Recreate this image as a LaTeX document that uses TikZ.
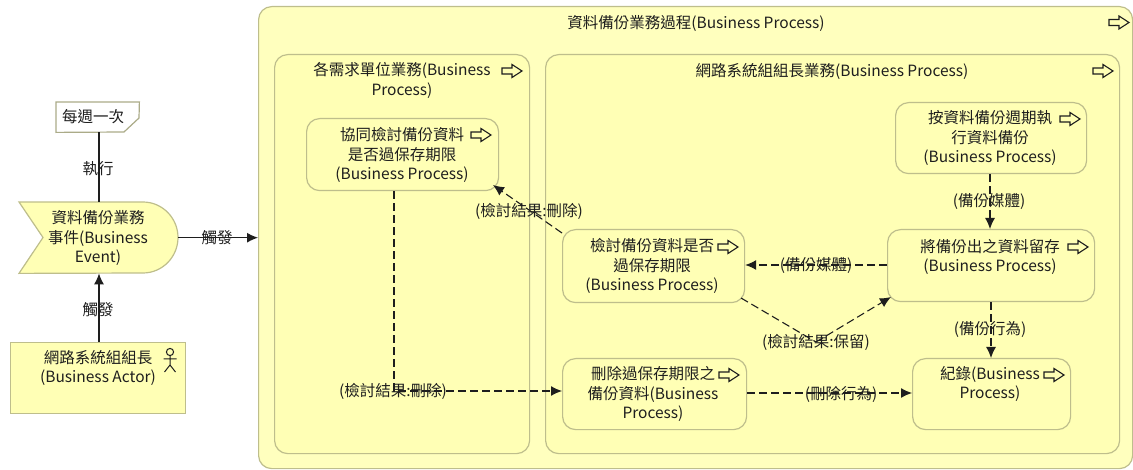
\documentclass[tikz,border=0pt]{standalone}
\usepackage{fontspec}
\setmainfont{Noto Sans CJK TC}
\usetikzlibrary{arrows.meta,calc}
\definecolor{fillA}{RGB}{255,255,181}
\definecolor{fillB}{RGB}{255,255,190}
\definecolor{edgeA}{RGB}{190,190,140}
\definecolor{inkA}{RGB}{30,30,30}
\tikzset{
  pbox/.style={draw=edgeA,line width=1.2pt,fill=fillA,rounded corners=13pt,inner sep=0pt,anchor=north west,rectangle},
  abox/.style={draw=edgeA,line width=1.2pt,fill=fillA,inner sep=0pt,anchor=north west,rectangle},
  frame/.style={inner sep=0pt,anchor=north west,rectangle},
  txt/.style={font=\fontsize{15.5}{19.6}\selectfont,text=inkA,align=center,inner sep=0pt},
  solidc/.style={draw=inkA,line width=1.2pt},
  dashc/.style={draw=inkA,line width=1.1pt,dash pattern=on 8pt off 4pt},
  tip/.style={-{Latex[length=11pt,width=10pt]}},
  micon/.pic={\draw[inkA,line width=1.1pt,fill=fillA,line join=miter]
    (-10,-3)--(0,-3)--(0,-6.5)--(10,0)--(0,6.5)--(0,3)--(-10,3)--cycle;}
}
\begin{document}
\begin{tikzpicture}[x=1pt,y=-1pt]
\useasboundingbox (0,0) rectangle (1133,470);
% containers
\node[pbox,fill=fillB,minimum width=874pt,minimum height=462pt] (outer) at (258,6) {};
\node[pbox,minimum width=255pt,minimum height=399pt] (left) at (274,54) {};
\node[pbox,minimum width=574pt,minimum height=399pt] (right) at (545,54) {};
% process boxes
\node[pbox,minimum width=192pt,minimum height=72pt] (coreview) at (306,118) {};
\node[pbox,minimum width=182pt,minimum height=73pt] (review) at (562,229) {};
\node[pbox,minimum width=184pt,minimum height=71pt] (delete) at (562,358) {};
\node[pbox,minimum width=191pt,minimum height=71pt] (backup) at (895,102) {};
\node[pbox,minimum width=207pt,minimum height=72pt] (keep) at (887,229) {};
\node[pbox,minimum width=158pt,minimum height=71pt] (record) at (912,358) {};
% actor
\node[abox,minimum width=175pt,minimum height=71pt] (actor) at (10,342) {};
\draw[inkA,line width=1pt] (170,352) circle (3.6pt) (170,355.6)--(170,365) (163.5,359)--(176.5,359) (170,365)--(164.5,372) (170,365)--(175.5,372);
% event
\node[frame,minimum width=159pt,minimum height=71pt] (event) at (19,202) {};
\draw[draw=edgeA,line width=1.2pt,fill=fillA] (event.north west)--(143,202) .. controls (162.3,202) and (178,218) .. (178,237.5) .. controls (178,257) and (162.3,273) .. (143,273)--(event.south west)--(43,237.5)--cycle;
% note
\node[frame,minimum width=83pt,minimum height=30pt] (note) at (56,102) {};
\draw[draw=edgeA!70!gray,line width=1.2pt,fill=white] (note.north west)--(note.north east)--(139,118)--(124,132)--(note.south west)--cycle;
% icons
\pic at (1119,22.5) {micon};
\pic at (512,71) {micon};
\pic at (1103,71) {micon};
\pic at (481,135) {micon};
\pic at (1070,119) {micon};
\pic at (1078,247) {micon};
\pic at (728,247) {micon};
\pic at (729,375) {micon};
\pic at (1054,375) {micon};
% connectors
\coordinate (bend) at (816,342);
\draw[solidc] (note.south -| 99,0) -- (event.north -| 99,0);
\draw[solidc,tip] (actor.north -| 99,0) -- (event.south -| 99,0);
\draw[solidc,tip] (event.east) -- (event.east -| outer.west);
\draw[dashc,tip] (coreview.south -| 394,0) -- (394,391) -- (delete.west |- 0,391);
\draw[dashc,tip] (562,233) -- (493,185);
\draw[dashc,tip] (keep.west |- 0,265) -- (review.east |- 0,265);
\draw[dashc,tip] (backup.south -| 990,0) -- (keep.north -| 990,0);
\draw[dashc,tip] (keep.south -| 991,0) -- (record.north -| 991,0);
\draw[dashc] (741,298) -- (bend);
\draw[dashc,tip] (bend) -- (891,297);
\draw[dashc,tip] (delete.east |- 0,393) -- (record.west |- 0,393);
% texts
\node[txt] (t1) at (696,23) {資料備份業務過程(Business Process)};
\node[txt] (t2) at (402,80.5) {各需求單位業務(Business\\Process)};
\node[txt] (t3) at (832,71) {網路系統組組長業務(Business Process)};
\node[txt] (t4) at (402,155) {協同檢討備份資料\\是否過保存期限\\(Business Process)};
\node[txt] (t5) at (652,266) {檢討備份資料是否\\過保存期限\\(Business Process)};
\node[txt] (t6) at (653,394) {刪除過保存期限之\\備份資料(Business\\Process)};
\node[txt] (t7) at (990,138) {按資料備份週期執\\行資料備份\\(Business Process)};
\node[txt] (t8) at (990,257) {將備份出之資料留存\\(Business Process)};
\node[txt] (t9) at (990,384) {紀錄(Business\\Process)};
\node[txt] (t10) at (98,238) {資料備份業務\\事件(Business\\Event)};
\node[txt] (t11) at (98,368) {網路系統組組長\\(Business Actor)};
\node[txt] (t12) at (93,117) {每週一次};
\node[txt] (l1) at (98,169) {執行};
\node[txt] (l2) at (98,310) {觸發};
\node[txt] (l3) at (217,238) {觸發};
\node[txt] (l4) at (393,391) {(檢討結果:刪除)};
\node[txt] (l5) at (529,211) {(檢討結果:刪除)};
\node[txt] (l6) at (816,266) {(備份媒體)};
\node[txt] (l7) at (989,202) {(備份媒體)};
\node[txt] (l8) at (990,330) {(備份行為)};
\node[txt] (l9) at (816,342) {(檢討結果:保留)};
\node[txt] (l10) at (841,394) {(刪除行為)};
\end{tikzpicture}
\end{document}
